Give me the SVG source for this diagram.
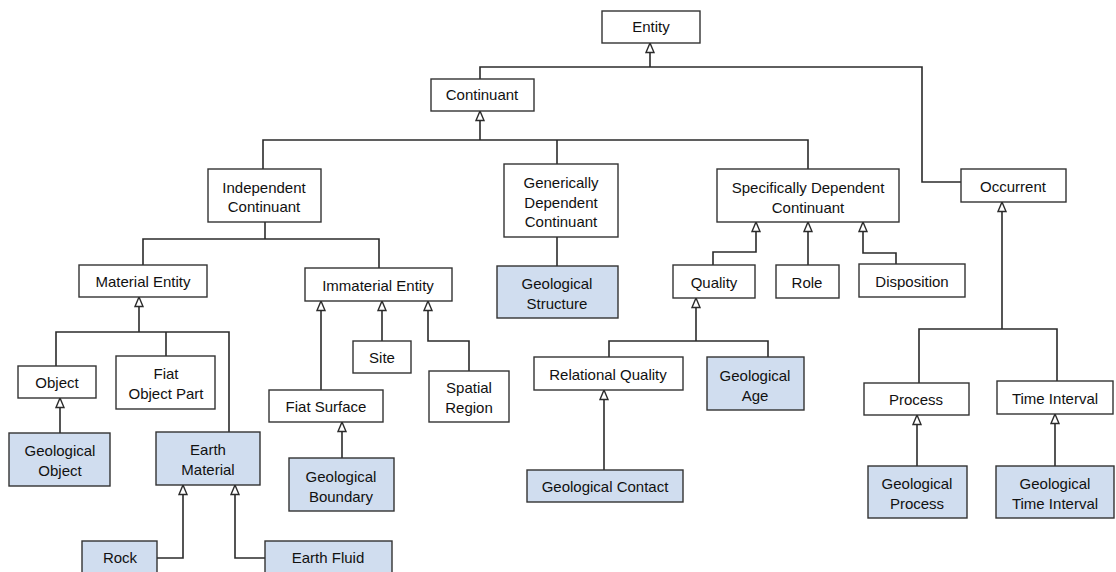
<svg xmlns="http://www.w3.org/2000/svg" width="1116" height="572" viewBox="0 0 1116 572">
<style>
.n rect{fill:#fff;stroke:#333;stroke-width:1.4}
.n.g rect{fill:#d0ddef}
.n text{font-family:"Liberation Sans",Arial,sans-serif;font-size:15px;fill:#111;text-anchor:middle}
#connectors path{fill:none;stroke:#2b2b2b;stroke-width:1.6}
#connectors path.a{marker-end:url(#tri)}
</style>
<defs>
<marker id="tri" markerUnits="userSpaceOnUse" markerWidth="12" markerHeight="12" viewBox="0 0 12 12" refX="11" refY="6" orient="auto">
<path d="M1.5,2 L11,6 L1.5,10 Z" fill="#fff" stroke="#2b2b2b" stroke-width="1.4"/>
</marker>
</defs>
<rect width="1116" height="572" fill="#fff"/>
<g id="connectors">
<path d="M480,79 V67 H922 V182 H961"/>
<path class="a" d="M650,67 V43"/>
<path d="M263,169 V140 H808 V169"/>
<path d="M557,140 V164"/>
<path class="a" d="M480,140 V111"/>
<path d="M265,222 V239"/>
<path d="M143,265 V239 H379 V268"/>
<path class="a" d="M139,332 V297"/>
<path d="M56,366 V332 H229 V432"/>
<path d="M166,332 V356"/>
<path class="a" d="M60,433 V398"/>
<path class="a" d="M157,558 H183 V485"/>
<path class="a" d="M265,558 H235 V485"/>
<path class="a" d="M321,390 V301"/>
<path class="a" d="M382,341 V301"/>
<path class="a" d="M469,371 V341 H428 V301"/>
<path class="a" d="M342,458 V422"/>
<path d="M557,237 V266"/>
<path class="a" d="M713,265 V252 H756 V222"/>
<path class="a" d="M808,265 V222"/>
<path class="a" d="M896,264 V253 H863 V222"/>
<path class="a" d="M696,341 V298"/>
<path d="M609,357 V341 H768 V357"/>
<path class="a" d="M604,470 V390"/>
<path class="a" d="M1002,329 V202"/>
<path d="M919,383 V329 H1057 V381"/>
<path class="a" d="M917,466 V415"/>
<path class="a" d="M1055,466 V414"/>
</g>
<g id="entity" class="n"><rect x="602" y="11" width="98" height="32"/><text x="651" y="32">Entity</text></g>
<g id="continuant" class="n"><rect x="431" y="79" width="103" height="32"/><text x="482" y="100">Continuant</text></g>
<g id="independent-continuant" class="n"><rect x="208" y="169" width="113" height="53"/><text x="264" y="193">Independent</text><text x="264" y="212">Continuant</text></g>
<g id="generically-dependent-continuant" class="n"><rect x="504" y="164" width="114" height="73"/><text x="561" y="188">Generically</text><text x="561" y="208">Dependent</text><text x="561" y="227">Continuant</text></g>
<g id="geological-structure" class="n g"><rect x="497" y="266" width="121" height="52"/><text x="557" y="289">Geological</text><text x="557" y="309">Structure</text></g>
<g id="specifically-dependent-continuant" class="n"><rect x="717" y="169" width="182" height="53"/><text x="808" y="193">Specifically Dependent</text><text x="808" y="213">Continuant</text></g>
<g id="occurrent" class="n"><rect x="961" y="169" width="105" height="33"/><text x="1013" y="192">Occurrent</text></g>
<g id="material-entity" class="n"><rect x="79" y="265" width="128" height="32"/><text x="143" y="287">Material Entity</text></g>
<g id="immaterial-entity" class="n"><rect x="305" y="268" width="147" height="33"/><text x="378" y="291">Immaterial Entity</text></g>
<g id="quality" class="n"><rect x="673" y="265" width="82" height="33"/><text x="714" y="288">Quality</text></g>
<g id="role" class="n"><rect x="776" y="265" width="63" height="33"/><text x="807" y="288">Role</text></g>
<g id="disposition" class="n"><rect x="859" y="264" width="106" height="33"/><text x="912" y="287">Disposition</text></g>
<g id="object" class="n"><rect x="18" y="366" width="78" height="32"/><text x="57" y="388">Object</text></g>
<g id="fiat-object-part" class="n"><rect x="116" y="356" width="99" height="53"/><text x="166" y="379">Fiat</text><text x="166" y="399">Object Part</text></g>
<g id="site" class="n"><rect x="353" y="341" width="58" height="32"/><text x="382" y="363">Site</text></g>
<g id="spatial-region" class="n"><rect x="429" y="371" width="80" height="51"/><text x="469" y="393">Spatial</text><text x="469" y="413">Region</text></g>
<g id="fiat-surface" class="n"><rect x="269" y="390" width="114" height="32"/><text x="326" y="412">Fiat Surface</text></g>
<g id="relational-quality" class="n"><rect x="534" y="357" width="149" height="33"/><text x="608" y="380">Relational Quality</text></g>
<g id="geological-age" class="n g"><rect x="707" y="357" width="97" height="53"/><text x="755" y="381">Geological</text><text x="755" y="401">Age</text></g>
<g id="process" class="n"><rect x="864" y="383" width="105" height="32"/><text x="916" y="405">Process</text></g>
<g id="time-interval" class="n"><rect x="997" y="381" width="116" height="33"/><text x="1055" y="404">Time Interval</text></g>
<g id="geological-object" class="n g"><rect x="9" y="433" width="101" height="53"/><text x="60" y="456">Geological</text><text x="60" y="476">Object</text></g>
<g id="earth-material" class="n g"><rect x="156" y="432" width="104" height="53"/><text x="208" y="455">Earth</text><text x="208" y="475">Material</text></g>
<g id="geological-boundary" class="n g"><rect x="289" y="458" width="105" height="53"/><text x="341" y="482">Geological</text><text x="341" y="502">Boundary</text></g>
<g id="geological-contact" class="n g"><rect x="527" y="470" width="156" height="32"/><text x="605" y="492">Geological Contact</text></g>
<g id="geological-process" class="n g"><rect x="868" y="466" width="99" height="52"/><text x="917" y="489">Geological</text><text x="917" y="509">Process</text></g>
<g id="geological-time-interval" class="n g"><rect x="996" y="466" width="118" height="52"/><text x="1055" y="489">Geological</text><text x="1055" y="509">Time Interval</text></g>
<g id="rock" class="n g"><rect x="82" y="541" width="75" height="40"/><text x="120" y="563">Rock</text></g>
<g id="earth-fluid" class="n g"><rect x="265" y="541" width="127" height="40"/><text x="328" y="563">Earth Fluid</text></g>
</svg>
